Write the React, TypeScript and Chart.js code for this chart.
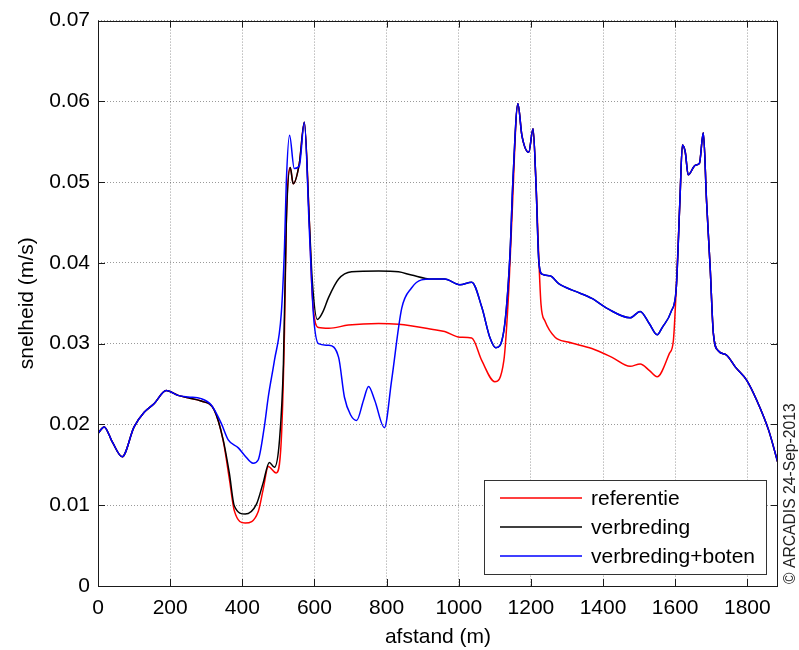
import React, { useEffect, useRef } from "react";
import { Chart, registerables } from "chart.js";

Chart.register(...registerables);

const FONT = '"Liberation Sans", Arial, Helvetica, sans-serif';

const xTickValues = [0, 200, 400, 600, 800, 1000, 1200, 1400, 1600, 1800];
const xMax = 1885;
const yMax = 0.07;
const yStep = 0.01;

const seriesNames = ["referentie", "verbreding", "verbreding+boten"];
const seriesColors = ["#ff0000", "#000000", "#0000ff"];

// verbreding+boten (blue)
const botenX = [0, 17, 40, 67, 100, 128, 156, 189, 222, 250, 286, 314, 342, 361, 389, 406, 430, 444, 461, 472, 489, 508, 517, 522, 531, 544, 558, 572, 586, 597, 611, 639, 667, 683, 700, 717, 736, 750, 767, 794, 814, 842, 869, 897, 925, 961, 1003, 1036, 1064, 1086, 1103, 1125, 1142, 1150, 1164, 1175, 1194, 1206, 1214, 1222, 1231, 1253, 1278, 1322, 1369, 1414, 1475, 1503, 1528, 1550, 1564, 1589, 1603, 1613, 1620, 1628, 1636, 1656, 1667, 1678, 1687, 1697, 1706, 1720, 1742, 1767, 1798, 1826, 1859, 1885];
const botenY = [0.0189, 0.0197, 0.0178, 0.016, 0.0197, 0.0215, 0.0226, 0.0242, 0.0236, 0.0234, 0.0232, 0.0224, 0.0201, 0.0181, 0.0171, 0.0162, 0.0152, 0.0156, 0.0197, 0.0234, 0.0279, 0.0337, 0.042, 0.05, 0.0558, 0.0517, 0.052, 0.0574, 0.0439, 0.0337, 0.03, 0.0298, 0.0283, 0.0234, 0.0212, 0.0205, 0.023, 0.0247, 0.023, 0.0196, 0.0255, 0.0344, 0.0369, 0.0379, 0.038, 0.038, 0.0373, 0.0376, 0.0345, 0.0308, 0.0295, 0.0316, 0.041, 0.05, 0.0597, 0.0558, 0.0537, 0.0566, 0.05, 0.0402, 0.0386, 0.0384, 0.0374, 0.0365, 0.0356, 0.0343, 0.0332, 0.034, 0.0325, 0.0311, 0.032, 0.034, 0.0369, 0.0476, 0.0546, 0.0537, 0.0509, 0.0521, 0.0523, 0.0561, 0.0476, 0.0394, 0.0312, 0.0291, 0.0286, 0.0271, 0.0255, 0.023, 0.0193, 0.0152];

// verbreding (black) up to where it joins the blue curve
const verbredingX = [0, 17, 40, 67, 100, 128, 156, 189, 222, 250, 286, 322, 347, 364, 378, 408, 439, 458, 475, 489, 503, 514, 522, 533, 541, 558, 572, 586, 594, 608, 624, 639, 667, 703, 778, 833, 869, 925, 961];
const verbredingY = [0.0189, 0.0197, 0.0178, 0.016, 0.0197, 0.0215, 0.0226, 0.0242, 0.0236, 0.0233, 0.0229, 0.0218, 0.0181, 0.014, 0.0099, 0.0089, 0.0101, 0.0128, 0.0153, 0.0147, 0.018, 0.0275, 0.045, 0.0518, 0.0498, 0.0523, 0.0574, 0.045, 0.0378, 0.033, 0.034, 0.0357, 0.038, 0.0389, 0.039, 0.0389, 0.0385, 0.038, 0.038];
const verbredingJoinIndex = 46; // continues on botenX/botenY from 1003 m

// referentie (red) up to where it joins the blue curve
const referentieX = [0, 17, 40, 67, 100, 128, 156, 189, 222, 250, 286, 322, 347, 364, 378, 408, 444, 458, 472, 494, 508, 517, 522, 533, 541, 558, 572, 586, 594, 611, 640, 694, 778, 833, 925, 961, 1003, 1036, 1064, 1100, 1125, 1139, 1147, 1164, 1175, 1194, 1206, 1214, 1228, 1239, 1267, 1303, 1369, 1425, 1475, 1503, 1528, 1550, 1584, 1595];
const referentieY = [0.0189, 0.0197, 0.0178, 0.016, 0.0197, 0.0215, 0.0226, 0.0242, 0.0236, 0.0233, 0.0229, 0.0218, 0.018, 0.0133, 0.0093, 0.0078, 0.0092, 0.012, 0.0148, 0.014, 0.018, 0.0316, 0.045, 0.0518, 0.0498, 0.0523, 0.0574, 0.045, 0.036, 0.032, 0.0319, 0.0323, 0.0325, 0.0324, 0.0318, 0.0315, 0.0308, 0.0307, 0.0279, 0.0253, 0.0279, 0.0369, 0.0451, 0.0597, 0.0558, 0.0537, 0.0566, 0.05, 0.0349, 0.0328, 0.0308, 0.0302, 0.0294, 0.0283, 0.0272, 0.0275, 0.0267, 0.0259, 0.0288, 0.0304];
const referentieJoinIndex = 72; // continues on botenX/botenY from 1603 m

const toPoints = (xs: number[], ys: number[]) => xs.map((x, i) => ({ x, y: ys[i] }));

export default function App() {
  const ref = useRef<HTMLCanvasElement>(null);

  useEffect(() => {
    const canvas = ref.current;
    if (!canvas) return;

    const bluePts = toPoints(botenX, botenY);
    const blackPts = toPoints(verbredingX, verbredingY).concat(
      toPoints(botenX.slice(verbredingJoinIndex), botenY.slice(verbredingJoinIndex))
    );
    const redPts = toPoints(referentieX, referentieY).concat(
      toPoints(botenX.slice(referentieJoinIndex), botenY.slice(referentieJoinIndex))
    );

    const decorPlugin = {
      id: "decor",
      afterDraw(chart: any) {
        const ctx = chart.ctx as CanvasRenderingContext2D;
        const { left, right, top, bottom } = chart.chartArea;
        const xs = chart.scales.x;
        const ys = chart.scales.y;
        ctx.save();
        // frame
        ctx.strokeStyle = "#1a1a1a";
        ctx.lineWidth = 1;
        ctx.setLineDash([]);
        ctx.strokeRect(Math.round(left) + 0.5, Math.round(top) + 0.5, Math.round(right - left) - 1, Math.round(bottom - top));
        // inward tick marks
        const tl = 7;
        ctx.beginPath();
        xs.ticks.forEach((t: any) => {
          const px = Math.round(xs.getPixelForValue(t.value)) + 0.5;
          ctx.moveTo(px, bottom);
          ctx.lineTo(px, bottom - tl);
          ctx.moveTo(px, top);
          ctx.lineTo(px, top + tl);
        });
        ys.ticks.forEach((t: any) => {
          const py = Math.round(ys.getPixelForValue(t.value)) + 0.5;
          ctx.moveTo(left, py);
          ctx.lineTo(left + tl, py);
          ctx.moveTo(right, py);
          ctx.lineTo(right - tl, py);
        });
        ctx.stroke();

        // legend box
        const bx = 484, by = 480, bw = 282, bh = 94;
        ctx.fillStyle = "#ffffff";
        ctx.fillRect(bx, by, bw, bh);
        ctx.strokeStyle = "#333333";
        ctx.strokeRect(bx + 0.5, by + 0.5, bw, bh);
        ctx.font = `21px ${FONT}`;
        ctx.textBaseline = "middle";
        ctx.textAlign = "left";
        seriesNames.forEach((name, i) => {
          const ry = 498 + i * 29;
          ctx.strokeStyle = seriesColors[i];
          ctx.lineWidth = 1.5;
          ctx.beginPath();
          ctx.moveTo(500, ry);
          ctx.lineTo(582, ry);
          ctx.stroke();
          ctx.fillStyle = "#000000";
          ctx.fillText(name, 591, ry + 1);
        });

        // copyright
        ctx.translate(791, 584);
        ctx.rotate(-Math.PI / 2);
        ctx.font = `15.7px ${FONT}`;
        ctx.fillStyle = "#222222";
        ctx.textAlign = "left";
        ctx.textBaseline = "middle";
        ctx.fillText("\u00A9 ARCADIS 24-Sep-2013", 0, 0);
        ctx.restore();
      },
    };

    const chart = new Chart(canvas, {
      type: "line",
      data: {
        datasets: [
          { label: seriesNames[2], data: bluePts, borderColor: seriesColors[2] },
          { label: seriesNames[1], data: blackPts, borderColor: seriesColors[1] },
          { label: seriesNames[0], data: redPts, borderColor: seriesColors[0] },
        ].map((d) => ({
          ...d,
          borderWidth: 1.5,
          pointRadius: 0,
          fill: false,
          cubicInterpolationMode: "monotone" as const,
        })),
      },
      options: {
        responsive: false,
        animation: false,
        devicePixelRatio: 1,
        layout: { padding: { left: 0, top: 19, right: 21, bottom: 0 } },
        plugins: {
          legend: { display: false },
          tooltip: { enabled: false },
        },
        scales: {
          x: {
            type: "linear",
            min: 0,
            max: xMax,
            afterFit: (scale: any) => {
              scale.height = 64;
            },
            afterBuildTicks: (scale: any) => {
              scale.ticks = xTickValues.map((v) => ({ value: v }));
            },
            ticks: {
              autoSkip: false,
              maxRotation: 0,
              padding: 10,
              color: "#000",
              font: { family: FONT, size: 21 },
              callback: (v: any) => String(v),
            },
            grid: { color: "rgba(0,0,0,0.4)", lineWidth: 1, drawTicks: false },
            border: { display: false, dash: [1, 2] },
            title: {
              display: true,
              text: "afstand (m)",
              color: "#000",
              font: { family: FONT, size: 21 },
              padding: { top: 0, bottom: 0 },
            },
          },
          y: {
            type: "linear",
            min: 0,
            max: yMax,
            afterFit: (scale: any) => {
              scale.width = 98;
            },
            ticks: {
              stepSize: yStep,
              includeBounds: false,
              padding: 8,
              color: "#000",
              font: { family: FONT, size: 21 },
              callback: (v: any) => (Number(v) === 0 ? "0" : Number(v).toFixed(2)),
            },
            grid: { color: "rgba(0,0,0,0.4)", lineWidth: 1, drawTicks: false },
            border: { display: false, dash: [1, 2] },
            title: {
              display: true,
              text: "snelheid (m/s)",
              color: "#000",
              font: { family: FONT, size: 21 },
              padding: { top: 15, bottom: 0 },
            },
          },
        },
      },
      plugins: [decorPlugin],
    } as any);

    return () => chart.destroy();
  }, []);

  return (
    <div style={{ position: "absolute", left: 0, top: 0, width: 799, height: 650 }}>
      <canvas ref={ref} width={799} height={650} style={{ display: "block" }} />
    </div>
  );
}
